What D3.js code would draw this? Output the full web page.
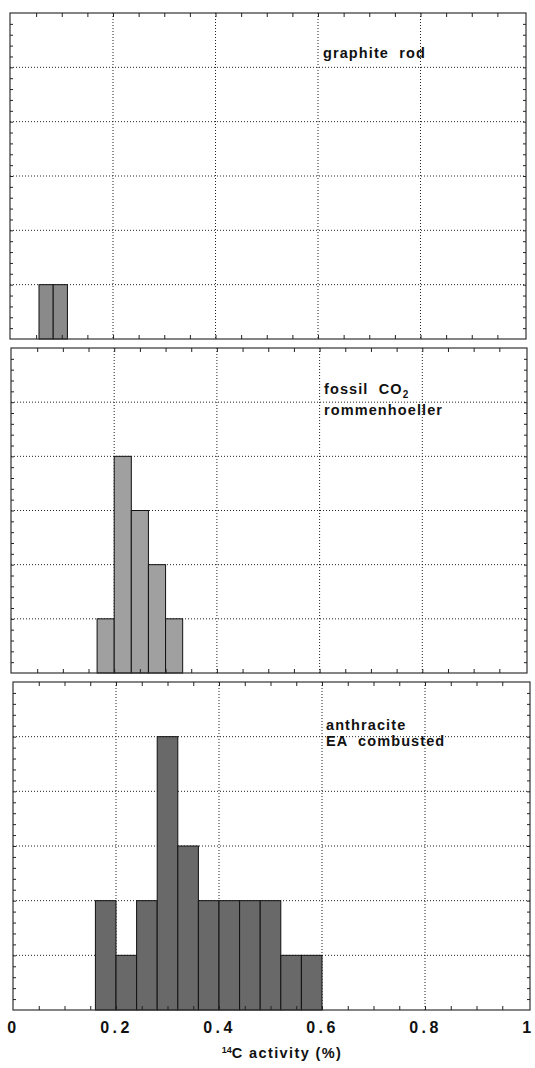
<!DOCTYPE html>
<html>
<head>
<meta charset="utf-8">
<script src="https://cdn.jsdelivr.net/npm/d3@7"></script>
<style>
  html, body { margin: 0; padding: 0; background: #fff; }
  svg { display: block; }
  text { font-family: "Liberation Sans", Arial, Helvetica, sans-serif; font-weight: bold; fill: #111; }
</style>
</head>
<body>
<svg id="chart" width="535" height="1068"></svg>
<script>
// ---- data ----
const panelNames = ["graphite rod", "fossil CO2 rommenhoeller", "anthracite EA combusted"];
// histogram bins: left edges (14C activity, %), bin widths, counts
const graphiteEdges = [0.0556, 0.0833];
const graphiteWidth = 1 / 36;
const graphiteCounts = [1, 1];

const fossilEdges = [0.1667, 0.2, 0.2333, 0.2667, 0.3];
const fossilWidth = 1 / 30;
const fossilCounts = [1, 4, 3, 2, 1];

const anthraciteEdges = [0.16, 0.20, 0.24, 0.28, 0.32, 0.36, 0.40, 0.44, 0.48, 0.52, 0.56];
const anthraciteWidth = 0.04;
const anthraciteCounts = [2, 1, 2, 5, 3, 2, 2, 2, 2, 1, 1];

const xTickValues = [0, 0.2, 0.4, 0.6, 0.8, 1];
const xTickLabels = ["0", "0.2", "0.4", "0.6", "0.8", "1"];
const yMax = 6;
const xTitle = "C activity (%)";
const xTitleSup = "14";

// ---- layout ----
const svg = d3.select("#chart");
const panels = [
  { edges: graphiteEdges, width: graphiteWidth, counts: graphiteCounts, fill: "#8a8a8a",
    top: 13, bottom: 339, left: 10, right: 526, x0: 10.5, x1: 523 },
  { edges: fossilEdges, width: fossilWidth, counts: fossilCounts, fill: "#a0a0a0",
    top: 348, bottom: 673, left: 11, right: 527, x0: 11.5, x1: 525 },
  { edges: anthraciteEdges, width: anthraciteWidth, counts: anthraciteCounts, fill: "#696969",
    top: 682, bottom: 1010, left: 13, right: 530, x0: 13, x1: 528 }
];

panels.forEach((p, i) => {
  const x = d3.scaleLinear().domain([0, 1]).range([p.x0, p.x1]);
  const y = d3.scaleLinear().domain([0, yMax]).range([p.bottom, p.top]);
  const g = svg.append("g");

  // gridlines (dotted)
  const xGrid = [0.2, 0.4, 0.6, 0.8];
  g.selectAll(".vg").data(xGrid).join("line")
    .attr("x1", d => x(d)).attr("x2", d => x(d))
    .attr("y1", p.top).attr("y2", p.bottom)
    .attr("stroke", "#222").attr("stroke-width", 1).attr("stroke-dasharray", "1,2");
  g.selectAll(".hg").data(d3.range(1, yMax)).join("line")
    .attr("x1", p.left).attr("x2", p.right)
    .attr("y1", d => y(d)).attr("y2", d => y(d))
    .attr("stroke", "#222").attr("stroke-width", 1).attr("stroke-dasharray", "1,2");

  // bars
  const bins = p.edges.map((e, k) => ({ x0: e, x1: e + p.width, c: p.counts[k] }));
  g.selectAll(".bar").data(bins).join("rect")
    .attr("x", d => x(d.x0)).attr("width", d => x(d.x1) - x(d.x0))
    .attr("y", d => y(d.c)).attr("height", d => y(0) - y(d.c))
    .attr("fill", p.fill).attr("stroke", "#111").attr("stroke-width", 1);

  // frame
  g.append("rect")
    .attr("x", p.left).attr("y", p.top)
    .attr("width", p.right - p.left).attr("height", p.bottom - p.top)
    .attr("fill", "none").attr("stroke", "#333").attr("stroke-width", 1.2);

  // minor ticks on x (top & bottom, inward)
  const xMinor = d3.range(1, 20).map(k => k * 0.05);
  const ax = d3.axisBottom(x).tickValues(xMinor).tickSize(-4).tickFormat("");
  const axTop = d3.axisTop(x).tickValues(xMinor).tickSize(-4).tickFormat("");
  const gb = g.append("g").attr("transform", `translate(0,${p.bottom})`).call(ax);
  const gt = g.append("g").attr("transform", `translate(0,${p.top})`).call(axTop);
  [gb, gt].forEach(a => { a.select(".domain").remove(); a.selectAll("line").attr("stroke", "#222"); });

  // minor ticks on y (left & right, inward)
  const yMinor = d3.range(1, yMax * 5).map(k => k * 0.2);
  const ayL = d3.axisLeft(y).tickValues(yMinor).tickSize(-3).tickFormat("");
  const ayR = d3.axisRight(y).tickValues(yMinor).tickSize(-3).tickFormat("");
  const gl = g.append("g").attr("transform", `translate(${p.left},0)`).call(ayL);
  const gr = g.append("g").attr("transform", `translate(${p.right},0)`).call(ayR);
  [gl, gr].forEach(a => { a.select(".domain").remove(); a.selectAll("line").attr("stroke", "#222"); });

  // bottom tick labels for the last panel
  if (i === panels.length - 1) {
    const axL = d3.axisBottom(x).tickValues(xTickValues).tickSize(0)
      .tickFormat((d, k) => xTickLabels[k]);
    const gLab = g.append("g").attr("transform", `translate(0,${p.bottom})`).call(axL);
    gLab.select(".domain").remove();
    gLab.selectAll("text")
      .attr("y", 23).attr("dy", 0)
      .style("font-size", "16px").style("letter-spacing", "3.5px")
      .style("font-family", '"Liberation Sans", Arial, sans-serif')
      .style("font-weight", "bold").attr("fill", "#111");
    // title
    const t = svg.append("text").attr("x", 282).attr("y", 1058)
      .attr("text-anchor", "middle").style("font-size", "14.5px").style("letter-spacing", "1.4px");
    t.append("tspan").text(xTitleSup).style("font-size", "9px").style("letter-spacing", "0px").attr("dy", -5);
    t.append("tspan").text(xTitle).attr("dy", 5);
  }
});

// panel labels
const lab = svg.append("g").style("font-size", "14.5px").style("letter-spacing", "1.1px");
lab.append("text").attr("x", 323).attr("y", 58).attr("xml:space", "preserve").text("graphite  rod");
const f1 = lab.append("text").attr("x", 324).attr("y", 394).attr("xml:space", "preserve");
f1.append("tspan").text("fossil  CO");
f1.append("tspan").text("2").style("font-size", "10px").attr("dy", 4);
lab.append("text").attr("x", 324).attr("y", 415).text("rommenhoeller");
lab.append("text").attr("x", 326).attr("y", 730).text("anthracite");
lab.append("text").attr("x", 326).attr("y", 746).attr("xml:space", "preserve").text("EA  combusted");
</script>
</body>
</html>
